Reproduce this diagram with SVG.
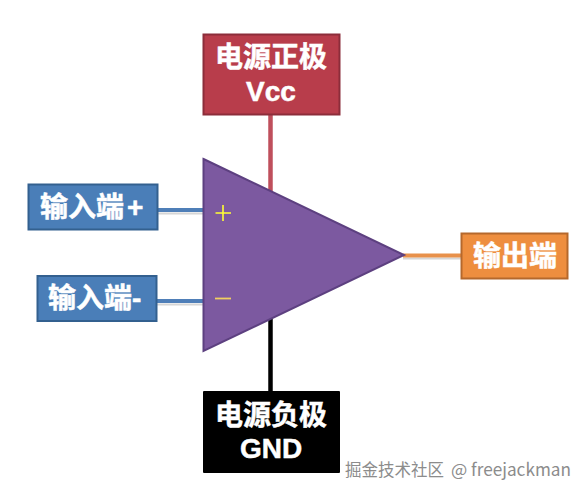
<svg xmlns="http://www.w3.org/2000/svg" width="587" height="494" viewBox="0 0 587 494">
<style>
text{font-family:"Noto Sans CJK SC","Noto Sans",sans-serif;font-weight:700;fill:#fff;stroke:#fff;stroke-width:.5;font-size:28px}
.c{text-anchor:middle}
.lat{font-family:"Liberation Sans",Arial,sans-serif}
.in{stroke:#4f7fb8;stroke-width:4;fill:none}
.sh{stroke:#d6d6d6;stroke-width:2;fill:none}
.box{stroke-width:2}
.sym{stroke:#ffff33;stroke-width:1.6;fill:none}
.wm{font-size:16.500px;font-weight:400;fill:#8c8c8c;stroke:none}
</style>
<rect width="587" height="494" fill="#fff"/>
<g id="connectors" fill="none">
<path class="sh" d="M158 213.500H204M157 304.500H204M403 258.500H461"/>
<path class="in" d="M158 210H204"/>
<path class="in" d="M157 301H204"/>
<path d="M270.500 114V192" stroke="#bf4f5c" stroke-width="4.500"/>
<path d="M270.500 318V391" stroke="#000" stroke-width="4.500"/>
<path d="M403 255.500H461" stroke="#e8914b" stroke-width="4"/>
</g>
<g id="opamp">
<polygon points="203.500,159 404,255 203.500,351" fill="#7c59a0" stroke="#5d4080" stroke-width="2"/>
<path class="sym" d="M215.500 213H231M223 205V221"/>
<path d="M215 298.500H231" stroke="#f0d060" stroke-width="1.800"/>
</g>
<g id="vcc">
<rect class="box" x="203.500" y="34.500" width="136" height="80" fill="#b83d4b" stroke="#8c2d3a"/>
<text class="c" x="271" y="67">电源正极</text>
<text class="c lat" x="271" y="101">Vcc</text>
</g>
<g id="gnd">
<rect x="203" y="391" width="137" height="82" rx="1" fill="#000"/>
<text class="c" x="271" y="425">电源负极</text>
<text class="c lat" x="271" y="458">GND</text>
</g>
<g id="input-plus">
<rect class="box" x="28.500" y="184.500" width="129" height="45" fill="#4a7eb8" stroke="#33608f"/>
<text x="40" y="217">输入端<tspan class="lat" x="127" y="217">+</tspan></text>
</g>
<g id="input-minus">
<rect class="box" x="37.500" y="276" width="119" height="45" fill="#4a7eb8" stroke="#33608f"/>
<text x="48" y="308">输入端<tspan class="lat" x="132" y="308">-</tspan></text>
</g>
<g id="output">
<rect class="box" x="461.500" y="233.500" width="106" height="45" fill="#ee8e3f" stroke="#b5682c"/>
<text x="473" y="266">输出端</text>
</g>
<text class="wm" x="345" y="476">掘金技术社区<tspan x="451" style="font-size:17.200px">@ freejackman</tspan></text>
</svg>
